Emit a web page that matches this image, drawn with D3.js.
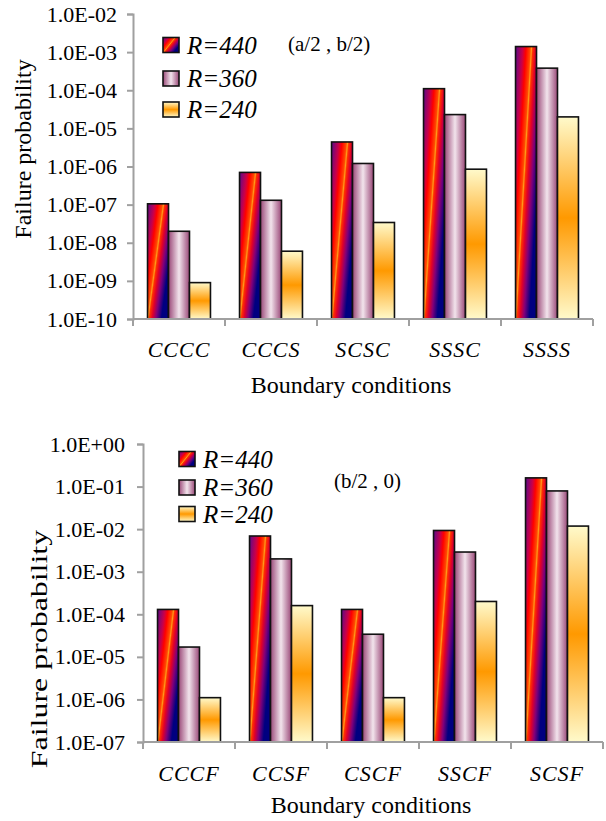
<!DOCTYPE html>
<html>
<head>
<meta charset="utf-8">
<script src="https://cdn.jsdelivr.net/npm/d3@7"></script>
<style>
  body { margin: 0; background: #fff; }
  svg { display: block; }
</style>
</head>
<body>
<svg id="chart" width="606" height="821" font-family="Liberation Serif"></svg>
<script>
'use strict'

// series names
const seriesNames = ["R=440", "R=360", "R=240"]

// top panel: (a/2 , b/2)
const topCategories = ["CCCC", "CCCS", "SCSC", "SSSC", "SSSS"]
const topR440 = [1.05e-7, 7.0e-7, 4.4e-6, 1.1e-4, 1.4e-3]
const topR360 = [2.0e-8, 1.3e-7, 1.2e-6, 2.3e-5, 3.8e-4]
const topR240 = [9.0e-10, 6.0e-9, 3.4e-8, 8.5e-7, 2.0e-5]
const topTicks = [1e-2, 1e-3, 1e-4, 1e-5, 1e-6, 1e-7, 1e-8, 1e-9, 1e-10]

// bottom panel: (b/2 , 0)
const botCategories = ["CCCF", "CCSF", "CSCF", "SSCF", "SCSF"]
const botR440 = [1.3e-4, 6.9e-3, 1.3e-4, 9.3e-3, 0.16]
const botR360 = [1.7e-5, 2.0e-3, 3.4e-5, 2.9e-3, 0.079]
const botR240 = [1.1e-6, 1.6e-4, 1.1e-6, 2.0e-4, 0.0118]
const botTicks = [1, 1e-1, 1e-2, 1e-3, 1e-4, 1e-5, 1e-6, 1e-7]

const svg = d3.select("#chart")
const defs = svg.append("defs")

// fill gradients, one per series
function addGradient(id, attrs, stops) {
    const g = defs.append("linearGradient").attr("id", id)
    Object.entries(attrs).forEach(([k, v]) => g.attr(k, v))
    stops.forEach(s => g.append("stop").attr("offset", s[0]).attr("stop-color", s[1]))
}
addGradient("g440", {x1: 0, y1: 0, x2: 1, y2: 0.75}, [
    [0, "#5a0a8c"], [0.22, "#c8004a"], [0.32, "#ff0000"], [0.45, "#ff4a00"],
    [0.49, "#ff9a1a"], [0.53, "#ff3000"], [0.62, "#e0002a"], [0.74, "#80007a"],
    [0.9, "#000080"], [1, "#000080"]
])
addGradient("g360", {x1: 0, y1: 0, x2: 1, y2: 0}, [
    [0, "#9a4878"], [0.5, "#f2e4ec"], [1, "#9a4878"]
])
addGradient("g240", {x1: 0, y1: 0, x2: 0, y2: 1}, [
    [0, "#fffacb"], [0.5, "#ff9900"], [1, "#fffacb"]
])
const fills = ["url(#g440)", "url(#g360)", "url(#g240)"]

function fmt(d) {
    const e = Math.round(Math.log10(d))
    return "1.0E" + (e >= 0 ? "+" : "-") + String(Math.abs(e)).padStart(2, "0")
}

function drawPanel(cfg) {
    const g = svg.append("g")
    const y = d3.scaleLog().domain(cfg.domain).range([cfg.yBottom, cfg.yTop])
    const x0 = d3.scaleBand().domain(cfg.categories).range([cfg.xLeft, cfg.xRight])
    const x1 = d3.scaleBand().domain(seriesNames)
        .range([x0.bandwidth() * 0.158, x0.bandwidth() * 0.842])

    const rows = cfg.categories.map((c, i) => ({
        cat: c,
        vals: cfg.series.map((s, j) => ({name: seriesNames[j], v: s[i], fill: fills[j]}))
    }))

    // bars
    g.selectAll("g.grp")
        .data(rows)
        .join("g")
        .attr("class", "grp")
        .attr("transform", d => `translate(${x0(d.cat)},0)`)
        .selectAll("rect")
        .data(d => d.vals)
        .join("rect")
        .attr("x", d => x1(d.name))
        .attr("y", d => y(d.v))
        .attr("width", x1.bandwidth())
        .attr("height", d => y.range()[0] - y(d.v))
        .attr("fill", d => d.fill)
        .attr("stroke", "#111")
        .attr("stroke-width", 1.6)

    // y axis
    const yAxis = d3.axisLeft(y).tickValues(cfg.ticks).tickFormat(fmt)
        .tickSize(6).tickPadding(cfg.tickPad)
    const ya = g.append("g").attr("transform", `translate(${cfg.xLeft},0)`).call(yAxis)
    ya.attr("font-family", null)
    ya.select(".domain").attr("stroke", "#a0a0a0").attr("stroke-width", 2)
    ya.selectAll(".tick line").attr("stroke", "#a0a0a0").attr("stroke-width", 2)
    ya.selectAll(".tick text").attr("font-size", 22).attr("fill", "#000")

    // x axis with ticks between categories
    const xa = g.append("g").attr("transform", `translate(0,${cfg.yBottom})`)
    xa.append("line").attr("x1", cfg.xLeft).attr("x2", cfg.xRight)
        .attr("stroke", "#a0a0a0").attr("stroke-width", 2)
    const edges = cfg.categories.map(c => x0(c)).concat([cfg.xRight])
    xa.selectAll("line.tk").data(edges).join("line").attr("class", "tk")
        .attr("x1", d => d).attr("x2", d => d).attr("y1", 0).attr("y2", 7)
        .attr("stroke", "#a0a0a0").attr("stroke-width", 2)
    g.selectAll("text.cat").data(cfg.categories).join("text").attr("class", "cat")
        .attr("x", d => x0(d) + x0.bandwidth() / 2)
        .attr("y", cfg.catY)
        .attr("text-anchor", "middle")
        .attr("font-size", 22).attr("font-style", "italic")
        .attr("letter-spacing", 1)
        .text(d => d)

    // axis titles
    g.append("text").attr("x", cfg.xTitleX).attr("y", cfg.xTitleY)
        .attr("text-anchor", "middle").attr("font-size", 24).text("Boundary conditions")
    g.append("text")
        .attr("transform", `translate(${cfg.yTitleX},${cfg.yTitleY}) rotate(-90) scale(${cfg.yTitleScale},1)`)
        .attr("text-anchor", "middle").attr("font-size", 24)
        .text("Failure probability")

    // legend
    const lg = g.selectAll("g.leg").data(seriesNames).join("g").attr("class", "leg")
        .attr("transform", (d, i) => `translate(${cfg.legX},${cfg.legY[i]})`)
    lg.append("rect").attr("x", 0).attr("y", -7.5).attr("width", 16).attr("height", 15)
        .attr("fill", (d, i) => fills[i]).attr("stroke", "#111").attr("stroke-width", 1.6)
    lg.append("text").attr("x", 24).attr("y", 8.5)
        .attr("font-size", 25).attr("font-style", "italic").text(d => d)

    g.append("text").attr("x", cfg.noteX).attr("y", cfg.noteY)
        .attr("font-size", 21).text(cfg.note)
}

drawPanel({
    categories: topCategories,
    series: [topR440, topR360, topR240],
    ticks: topTicks,
    domain: [1e-10, 1e-2],
    xLeft: 133, xRight: 593, yTop: 14, yBottom: 319, tickPad: 10,
    catY: 357, xTitleX: 351, xTitleY: 393,
    yTitleX: 31, yTitleY: 149, yTitleScale: 1,
    legX: 163, legY: [45, 78.5, 109.5],
    note: "(a/2 , b/2)", noteX: 288, noteY: 51
})

drawPanel({
    categories: botCategories,
    series: [botR440, botR360, botR240],
    ticks: botTicks,
    domain: [1e-7, 1],
    xLeft: 143, xRight: 603, yTop: 444, yBottom: 742, tickPad: 12,
    catY: 781, xTitleX: 371, xTitleY: 813,
    yTitleX: 47, yTitleY: 649, yTitleScale: 1.33,
    legX: 179, legY: [459, 487.5, 514],
    note: "(b/2 , 0)", noteX: 334, noteY: 488
})
</script>
</body>
</html>
